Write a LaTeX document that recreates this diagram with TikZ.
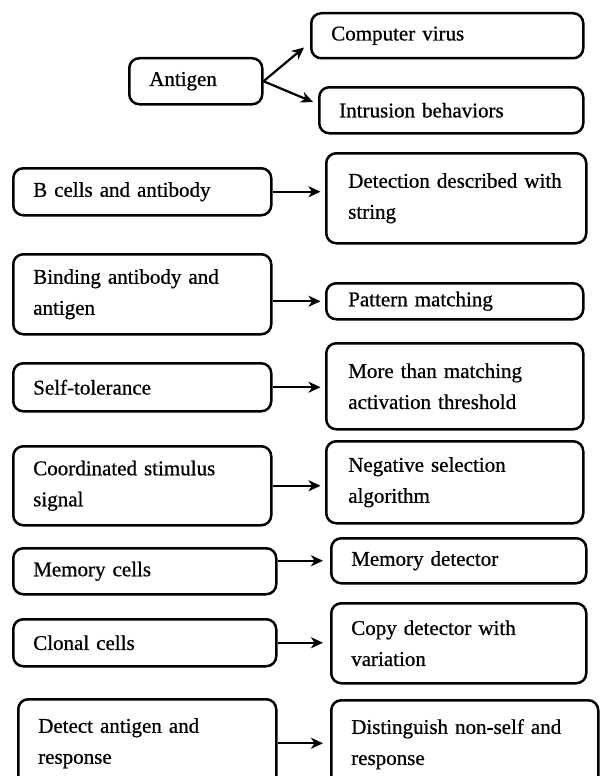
\documentclass[tikz,border=0pt]{standalone}
\usepackage{fontspec}
\setmainfont{Liberation Serif}[FakeBold=0.7]
\usetikzlibrary{arrows.meta}
\begin{document}
\begin{tikzpicture}[x=1pt,y=1pt,
  box/.style={draw, line width=2.5pt, rounded corners=10pt, anchor=north west,
    align=left, inner xsep=20pt, inner ysep=0pt,
    font=\fontsize{21pt}{31pt}\selectfont},
  arr/.style={line width=2.2pt, -{Stealth[length=12pt,width=11pt,inset=3.5pt]}}]
\path[use as bounding box, clip] (0,0) rectangle (600,-776);
\fill[white] (0,0) rectangle (600,-776);

% antigen and its two kinds
\node[box, text width=93, minimum height=46] (ant) at (128,-57) {Antigen};
\node[box, text width=232, minimum height=45] (cv) at (310,-12) {Computer virus};
\node[box, text width=224, minimum height=46] (intr) at (318,-86) {Intrusion behaviors};

% immune concepts (left) and their detector counterparts (right)
\node[box, text width=218, minimum height=47] (bcell) at (12,-167) {B cells and antibody};
\node[box, inner xsep=22pt, text width=216, minimum height=90] (detn) at (325,-152) {Detection described with\\string};

\node[box, text width=218, minimum height=80] (bind) at (12,-253) {Binding antibody and\\antigen};
\node[box, inner xsep=22pt, text width=213, minimum height=36] (pat) at (325,-282) {Pattern matching};

\node[box, text width=218, minimum height=48] (stol) at (12,-362) {Self-tolerance};
\node[box, inner xsep=22pt, text width=213, minimum height=86] (thr) at (325,-342) {More than matching\\activation threshold};

\node[box, text width=218, minimum height=79] (coord) at (12,-445) {Coordinated stimulus\\signal};
\node[box, inner xsep=22pt, text width=213, minimum height=82] (neg) at (325,-440) {Negative selection\\algorithm};

\node[box, text width=223, minimum height=46] (mcell) at (12,-547) {Memory cells};
\node[box, text width=215, minimum height=45] (mdet) at (330,-537) {Memory detector};

\node[box, text width=223, minimum height=47] (clon) at (12,-618) {Clonal cells};
\node[box, text width=215, minimum height=80] (copy) at (330,-602) {Copy detector with\\variation};

\node[box, text width=218, minimum height=88] (dres) at (17,-698) {Detect antigen and\\response};
\node[box, text width=227, minimum height=88] (dist) at (330,-699) {Distinguish non-self and\\response};

% connectors
\draw[arr] (ant.east) -- ([shift={(-6pt,12pt)}]cv.south west);
\draw[arr] (ant.east) -- ([shift={(-5pt,-16pt)}]intr.north west);
\draw[arr, shorten >=4.5pt] (bcell.east) -- (bcell.east -| detn.west);
\draw[arr, shorten >=4.5pt] (pat.west -| bind.east) -- (pat.west);
\draw[arr, shorten >=4.5pt] (stol.east) -- (stol.east -| thr.west);
\draw[arr, shorten >=4.5pt] (coord.east) -- (coord.east -| neg.west);
\draw[arr, shorten >=7pt] (mdet.west -| mcell.east) -- (mdet.west);
\draw[arr, shorten >=7pt] (clon.east) -- (clon.east -| copy.west);
\draw[arr, shorten >=7pt] (dres.east) -- (dres.east -| dist.west);
\end{tikzpicture}
\end{document}
